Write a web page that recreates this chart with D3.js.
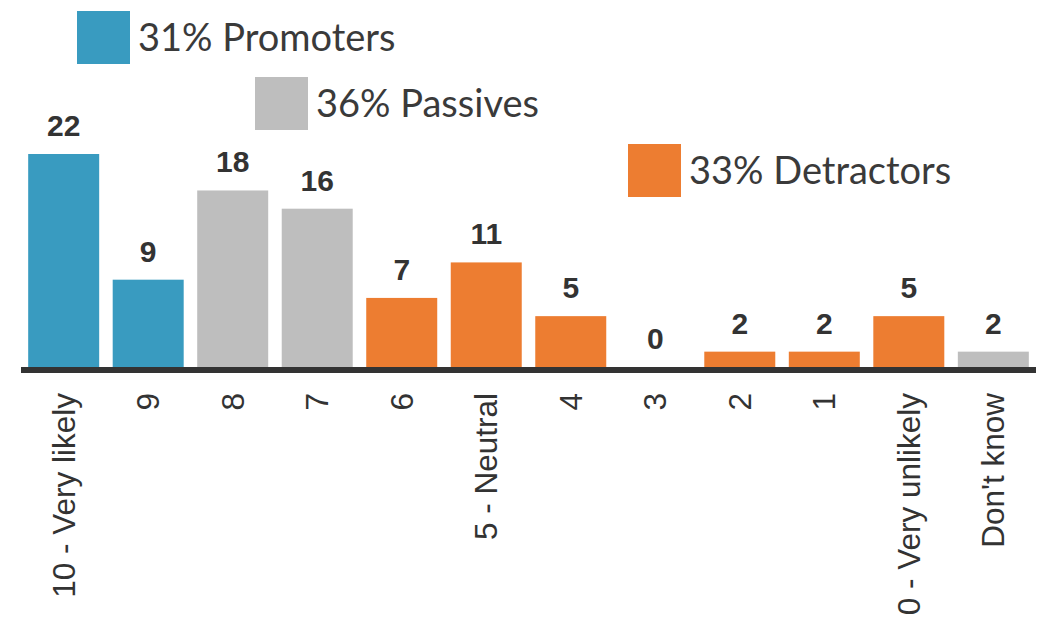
<!DOCTYPE html>
<html>
<head>
<meta charset="utf-8">
<script src="https://cdn.jsdelivr.net/npm/d3@7"></script>
<style>
  body { margin: 0; background: #fff; }
  svg { display: block; }
</style>
</head>
<body>
<div id="chart"></div>
<script>
// data
const categories = ['10 - Very likely', '9', '8', '7', '6', '5 - Neutral', '4', '3', '2', '1', '0 - Very unlikely', "Don't know"]
// bar heights (percent), and the rounded labels printed above them
const shares = [22.2, 9.1, 18.4, 16.5, 7.2, 10.9, 5.3, 0, 1.6, 1.6, 5.3, 1.6]
const printed = [22, 9, 18, 16, 7, 11, 5, 0, 2, 2, 5, 2]
const groups = ['Promoters', 'Promoters', 'Passives', 'Passives', 'Detractors', 'Detractors', 'Detractors', 'Detractors', 'Detractors', 'Detractors', 'Detractors', 'Passives']
const legendGroups = ['Promoters', 'Passives', 'Detractors']
const legendShares = [31, 36, 33]

const width = 1041
const height = 617
const baseY = 367

const color = d3.scaleOrdinal()
  .domain(['Promoters', 'Passives', 'Detractors'])
  .range(['#399bc0', '#bebebe', '#ed7d31'])

const svg = d3.select('#chart')
  .append('svg')
    .attr('width', width)
    .attr('height', height)

const x = d3.scaleBand()
  .domain(categories)
  .range([21, 1036])
  .paddingInner(0.16)
  .paddingOuter(0.085)

const y = d3.scaleLinear()
  .domain([0, 22.2])
  .range([baseY, 154])

const rows = categories.map((c, i) => ({cat: c, v: shares[i], label: printed[i], g: groups[i]}))

// bars
svg.append('g').classed('bars', true)
  .selectAll('rect')
  .data(rows)
  .enter().append('rect')
    .attr('x', d => x(d.cat))
    .attr('y', d => y(d.v))
    .attr('width', x.bandwidth())
    .attr('height', d => baseY - y(d.v))
    .attr('fill', d => color(d.g))

// value labels
svg.append('g').classed('values', true)
  .selectAll('text')
  .data(rows)
  .enter().append('text')
    .attr('x', d => x(d.cat) + x.bandwidth() / 2)
    .attr('y', d => y(d.v) - 18)
    .attr('text-anchor', 'middle')
    .style('font-family', 'Liberation Sans, Arial, sans-serif')
    .style('font-weight', 'bold')
    .style('font-size', '30px')
    .attr('fill', '#333')
    .text(d => d.label)

// baseline
svg.append('rect')
  .attr('x', 21)
  .attr('y', baseY)
  .attr('width', 1015)
  .attr('height', 6)
  .attr('fill', '#333')

// category labels (rotated)
svg.append('g').classed('x-labels', true)
  .selectAll('text')
  .data(categories)
  .enter().append('text')
    .attr('transform', d => 'translate(' + (x(d) + x.bandwidth() / 2) + ',' + 393 + ') rotate(-90)')
    .attr('text-anchor', 'end')
    .attr('dy', '0.35em')
    .style('font-family', 'Liberation Sans, Arial, sans-serif')
    .style('font-size', '31.5px')
    .attr('fill', '#333')
    .text(d => d)

// legend, staggered like the original
const legendPos = [[77, 11], [255, 77], [628, 144]]
const legendG = svg.append('g').classed('legend', true)
legendGroups.forEach((g, i) => {
  const [lx, ly] = legendPos[i]
  legendG.append('rect')
    .attr('x', lx)
    .attr('y', ly)
    .attr('width', 53)
    .attr('height', 53)
    .attr('fill', color(g))
  legendG.append('text')
    .attr('x', lx + 61)
    .attr('y', ly + 40)
    .style('font-family', 'Lato, sans-serif')
    .style('font-size', '38px')
    .attr('fill', '#3a3a3a')
    .text(legendShares[i] + '% ' + g)
})
</script>
</body>
</html>
